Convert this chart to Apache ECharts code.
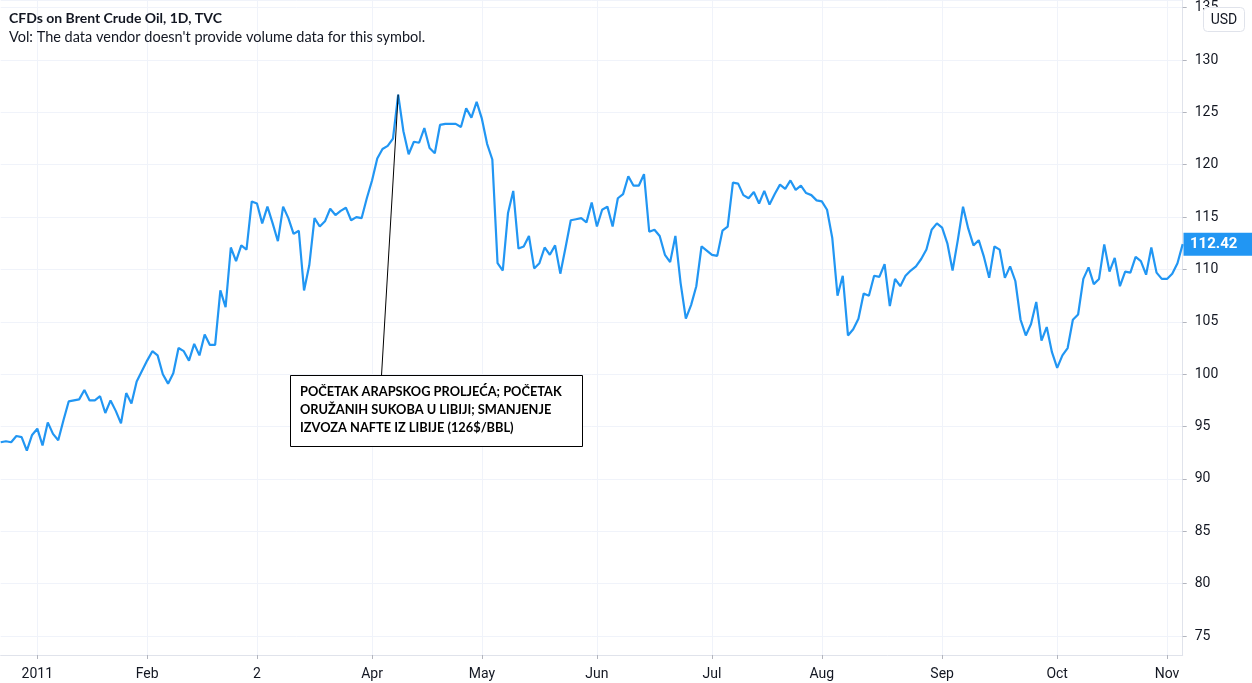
<!DOCTYPE html>
<html><head><meta charset="utf-8">
<script src="https://cdn.jsdelivr.net/npm/echarts@6/dist/echarts.min.js"></script>
<style>html,body{margin:0;padding:0;background:#fff}#c{width:1252px;height:683px}</style>
</head><body><div id="c"></div>
<script>
// Daily closes (trading days)
const prices = [
  93.5, 93.6, 93.5, 94.1, 94.0, 92.7, 94.2, 94.8, 93.2, 95.4, 94.3, 93.7, 95.6, 97.4, 97.5, 97.6, 98.5, 97.5, 97.5, 97.9,
  96.3, 97.5, 96.5, 95.3, 98.2, 97.2, 99.3, 100.3, 101.3, 102.2, 101.8, 100.0, 99.1, 100.1, 102.5, 102.2, 101.3, 102.9, 101.8, 103.8,
  102.8, 102.8,
  108.0, 106.4, 112.1, 110.8, 112.3, 111.9, 116.5, 116.3, 114.4, 116.0, 114.4, 112.7, 116.0, 114.9, 113.4, 113.7, 108.0, 110.4,
  114.9, 114.1, 114.6, 115.8, 115.2, 115.6, 115.9, 114.7, 115.0, 114.9, 116.8, 118.5,
  120.6, 121.5, 121.8, 122.5, 126.7, 123.2, 121.0, 122.2, 122.1, 123.5, 121.6, 121.1, 123.8, 123.9, 123.9, 123.9, 123.6, 125.4,
  124.5, 126.0, 124.4, 122.0, 120.5, 110.6, 109.9, 115.4, 117.5, 112.0, 112.2, 113.2, 110.1, 110.6, 112.1, 111.4,
  112.3, 109.6, 112.1, 114.7, 114.8, 114.9, 114.5, 116.4, 114.1, 115.7, 116.0, 114.1, 116.8, 117.2, 118.9, 118.0, 118.0, 119.1,
  113.6, 113.8, 113.2, 111.4, 110.7, 113.2, 108.7, 105.3, 106.6, 108.4,
  112.2, 111.8, 111.4, 111.3, 113.7, 114.1, 118.3, 118.2, 117.1, 116.8, 117.4, 116.3, 117.5, 116.2, 117.2, 118.1, 117.7, 118.5,
  117.6, 118.0, 117.3, 117.1, 116.6, 116.5, 115.7, 113.0,
  107.5, 109.4, 103.7, 104.3, 105.3, 107.7, 107.5, 109.4, 109.3, 110.5, 106.5, 109.1, 108.4, 109.4, 109.9, 110.3, 111.0, 111.9,
  113.8, 114.4, 114.0, 112.5, 109.9, 112.8, 116.0, 113.9, 112.3, 112.8, 111.2, 109.2, 112.2, 111.9, 109.2, 110.3, 108.9,
  105.2, 103.7, 104.8, 106.9, 103.2, 104.5, 102.1, 100.6, 101.8, 102.5, 105.2, 105.7, 109.1, 110.2, 108.6, 109.1, 112.4, 109.8,
  111.1, 108.4, 109.8, 109.7, 111.2, 110.8, 109.5, 112.1, 109.7, 109.1, 109.1, 109.6, 110.6, 112.42
];
const categories = prices.map((_, i) => String(i));
// Time-scale tick labels and the trading-day index where each one sits
const monthTickIndex = [7, 28, 49, 71, 92, 114, 136, 157, 180, 202, 223];
const monthTickLabels = ['2011', 'Feb', '2', 'Apr', 'May', 'Jun', 'Jul', 'Aug', 'Sep', 'Oct', 'Nov'];
const lastPriceText = '112.42';
const peakIndex = 76;
const titleText = 'CFDs on Brent Crude Oil, 1D, TVC';
const subtitleText = "Vol: The data vendor doesn't provide volume data for this symbol.";
const noteLines = ['POČETAK ARAPSKOG PROLJEĆA; POČETAK', 'ORUŽANIH SUKOBA U LIBIJI; SMANJENJE', 'IZVOZA NAFTE IZ LIBIJE (126$/BBL)'];

const BLUE = '#2196f3';
const TXT = '#131722';
const GRID = '#f0f3fa';
const AXIS = '#e0e3eb';
const tickSet = new Set(monthTickIndex);

const chart = echarts.init(document.getElementById('c'), null, {renderer: 'canvas'});
chart.setOption({
  animation: false,
  backgroundColor: '#ffffff',
  grid: {left: 0.7, right: 69.3, top: 0, bottom: 28, containLabel: false},
  xAxis: {
    type: 'category',
    data: categories,
    boundaryGap: false,
    axisLine: {show: true, lineStyle: {color: AXIS, width: 1}},
    axisTick: {show: true, alignWithLabel: true, length: 4, lineStyle: {color: '#b2b5be'},
      interval: (i) => tickSet.has(i)},
    axisLabel: {
      interval: (i) => tickSet.has(i),
      formatter: (v, i) => {
        const k = monthTickIndex.indexOf(i);
        return k >= 0 ? monthTickLabels[k] : '';
      },
      color: TXT, fontSize: 14, fontFamily: 'Roboto', margin: 12
    },
    splitLine: {show: true, interval: (i) => tickSet.has(i), lineStyle: {color: GRID, width: 1}}
  },
  yAxis: {
    type: 'value',
    position: 'right',
    min: 73.19,
    max: 135.73,
    splitNumber: 12,
    minInterval: 5,
    maxInterval: 5,
    axisLine: {show: true, lineStyle: {color: AXIS, width: 1}},
    axisTick: {show: true, length: 4, lineStyle: {color: '#b2b5be'}},
    axisLabel: {
      color: TXT, fontSize: 14, fontFamily: 'Roboto', margin: 12,
      showMinLabel: false, showMaxLabel: false,
      formatter: (v) => (Math.abs(v % 5) < 1e-6 ? String(v) : '')
    },
    splitLine: {show: true, lineStyle: {color: GRID, width: 1}}
  },
  series: [{
    type: 'line',
    data: prices,
    symbol: 'none',
    lineStyle: {color: BLUE, width: 2.2},
    itemStyle: {color: BLUE}
  }]
});

function drawOverlay() {
  const peak = chart.convertToPixel({seriesIndex: 0}, [peakIndex, prices[peakIndex]]);
  const last = chart.convertToPixel({seriesIndex: 0}, [prices.length - 1, prices[prices.length - 1]]);
  const boxX = 290.5, boxY = 375.5, boxW = 292, boxH = 71;
  const elements = [
    {type: 'text', x: 9, y: 18, z: 100, style: {text: titleText, fill: TXT, font: 'bold 14px Lato', verticalAlign: 'middle'}},
    {type: 'text', x: 9, y: 37, z: 100, style: {text: subtitleText, fill: TXT, font: '14.5px Lato', verticalAlign: 'middle'}},
    {type: 'rect', z: 100, shape: {x: 1203.5, y: 7.5, width: 41, height: 24, r: 4},
      style: {fill: '#ffffff', stroke: AXIS, lineWidth: 1}},
    {type: 'text', z: 101, x: 1224, y: 20, style: {text: 'USD', fill: TXT, font: '14px Roboto', align: 'center', verticalAlign: 'middle'}},
    {type: 'line', z: 90, shape: {x1: peak[0], y1: peak[1], x2: 381.5, y2: boxY}, style: {stroke: '#000000', lineWidth: 1}},
    {type: 'rect', z: 91, shape: {x: boxX, y: boxY, width: boxW, height: boxH},
      style: {fill: '#ffffff', stroke: '#000000', lineWidth: 1}},
    {type: 'rect', z: 100, shape: {x: 1183.5, y: last[1] - 11.5, width: 69, height: 23},
      style: {fill: BLUE}},
    {type: 'text', z: 101, x: 1190, y: last[1], style: {text: lastPriceText, fill: '#ffffff', font: 'bold 15px Roboto', verticalAlign: 'middle'}}
  ];
  noteLines.forEach((t, i) => {
    elements.push({type: 'text', z: 92, x: 300, y: 392 + i * 18,
      style: {text: t, fill: '#000000', font: 'bold 12.8px Lato', verticalAlign: 'middle'}});
  });
  chart.setOption({graphic: {elements: elements}});
}
drawOverlay();
</script>
</body></html>
